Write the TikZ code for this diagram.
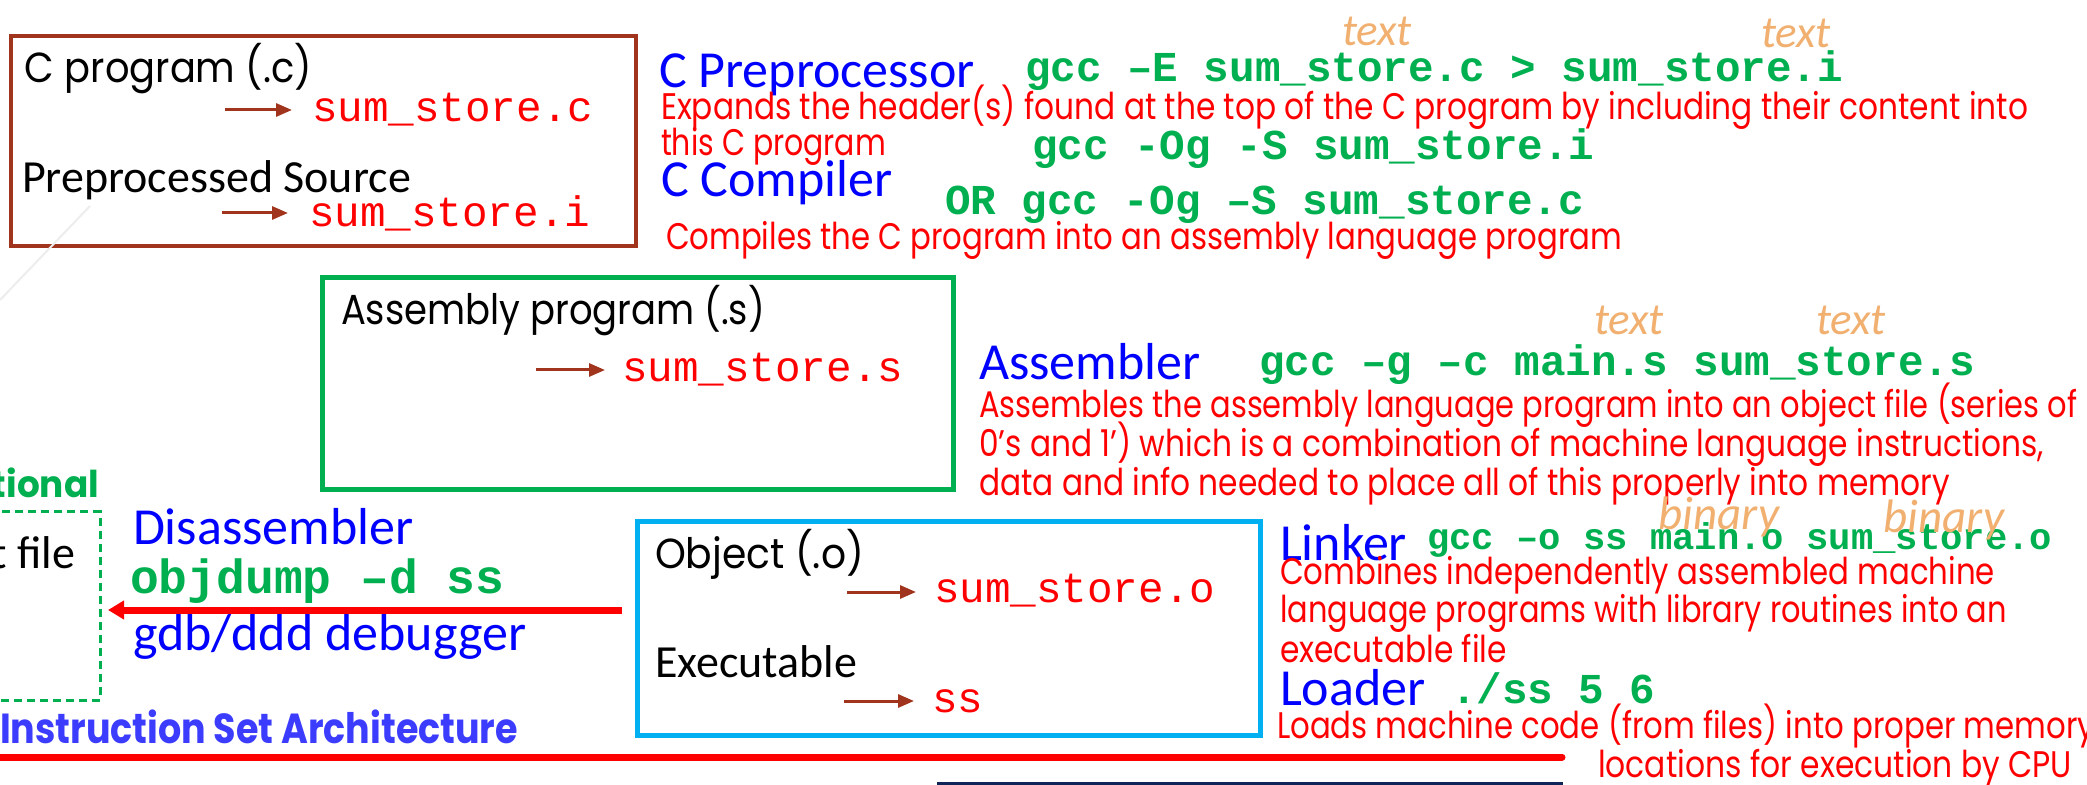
\documentclass[tikz,border=0pt]{standalone}
\usepackage{fontspec}
\usepackage{graphicx}
\setmainfont{Carlito}
\newfontfamily\popfont{Poppins}
\newfontfamily\monofont{Liberation Mono}
\newfontfamily\carfont{Carlito}
\usetikzlibrary{arrows.meta}
\definecolor{brn}{RGB}{160,52,28}
\definecolor{grn}{RGB}{0,176,80}
\definecolor{cyn}{RGB}{0,176,240}
\definecolor{blu}{RGB}{0,0,255}
\definecolor{rd}{RGB}{255,0,0}
\definecolor{org}{RGB}{241,176,112}
\definecolor{isab}{RGB}{60,60,255}
\definecolor{navy}{RGB}{15,37,87}
\newcommand\fitw[2]{\resizebox{#1pt}{\height}{#2}}
\begin{document}
\begin{tikzpicture}[x=0.5pt,y=-0.5pt,
  tx/.style={inner sep=0pt, outer sep=0pt, anchor=base west},
  desc/.style={tx, text=rd, font=\popfont\fontsize{18.5}{22}\selectfont},
  ttl/.style={tx, font=\popfont\fontsize{21}{25}\selectfont},
  lbl/.style={tx, text=blu, font=\carfont\fontsize{26}{30}\selectfont},
  calt/.style={tx, font=\carfont\fontsize{23}{27}\selectfont},
  fname/.style={tx, text=rd, font=\monofont\fontsize{21.3}{25}\selectfont},
  cmd/.style={tx, text=grn, font=\monofont\bfseries\fontsize{21.3}{25}\selectfont},
  note/.style={inner sep=0pt, anchor=base, text=org, font=\carfont\itshape\fontsize{22.5}{26}\selectfont},
  brarr/.style={draw=brn, line width=1.5pt, -{Triangle[length=8pt,width=6.5pt]}},
  boxs/.style={inner sep=0pt, outer sep=0pt, anchor=north west},
]
\useasboundingbox (0,0) rectangle (2087,785);
\clip (0,0) rectangle (2087,785);
\fill[white] (0,0) rectangle (2087,785);

% boxes
\node[boxs, draw=brn, line width=2pt, minimum width=312.5pt, minimum height=105pt] (cbox) at (11,36) {};
\node[boxs, draw=grn, line width=2.5pt, minimum width=315.5pt, minimum height=106pt] (sbox) at (322,278) {};
\node[boxs, draw=cyn, line width=2.5pt, minimum width=311.5pt, minimum height=106.5pt] (obox) at (637,522) {};
\node[inner sep=0pt, outer sep=0pt, anchor=north east, draw=grn, line width=1.5pt, dash pattern=on 4pt off 2.5pt, minimum width=160pt, minimum height=94pt] (dbox) at (100,512) {};

% faint line
\draw[black!7, line width=1pt] (90,206) -- (0,300);

% first box contents
\node[ttl] (cprog) at (25,83) {\fitw{143.5}{C program (.c)}};
\node[fname] (fc) at (312,122) {sum\_store.c};
\node[calt] (pre) at (22,193) {Preprocessed Source};
\node[fname] (fi) at (309,227) {sum\_store.i};
\coordinate (a1) at (225,110);
\coordinate (a2) at (222,213);
\draw[brarr, shorten >=10pt] (a1) -- (a1 -| fc.west);
\draw[brarr, shorten >=10.5pt] (a2) -- (a2 -| fi.west);

% second box
\node[ttl] (asmp) at (341,325) {\fitw{212}{Assembly program (.s)}};
\node[fname] (fs) at (622,382) {sum\_store.s};
\coordinate (a3) at (536,370);
\draw[brarr, shorten >=8.5pt] (a3) -- (a3 -| fs.west);

% third box
\node[ttl] (objt) at (655,568) {\fitw{104.5}{Object (.o)}};
\node[fname] (fo) at (934,603) {sum\_store.o};
\node[calt] (exe) at (655,677) {Executable};
\node[fname] (fss) at (932,712) {ss};
\coordinate (a4) at (847,592);
\coordinate (a5) at (844,701);
\draw[brarr, shorten >=9pt] (a4) -- (a4 -| fo.west);
\draw[brarr, shorten >=9pt] (a5) -- (a5 -| fss.west);

% preprocessor / compiler
\node[lbl] (lpre) at (659,88) {C Preprocessor};
\node[cmd] (c1) at (1025,82) {gcc –E sum\_store.c > sum\_store.i};
\node[desc] (d1) at (661,120) {\fitw{683.5}{Expands the header(s) found at the top of the C program by including their content into}};
\node[desc] (d2) at (661,156) {\fitw{112.5}{this C program}};
\node[cmd] (c2) at (1032,160) {gcc -Og -S sum\_store.i};
\node[lbl] (lcomp) at (661,197) {C Compiler};
\node[cmd] (c3) at (945,215) {OR gcc -Og –S sum\_store.c};
\node[desc] (d3) at (666,250) {\fitw{478}{Compiles the C program into an assembly language program}};
\node[note] (n1) at (1377,46) {text};
\node[note] (n2) at (1796,48) {text};

% assembler
\node[lbl] (lasm) at (979,380) {Assembler};
\node[cmd] (c4) at (1259,376) {gcc –g –c main.s sum\_store.s};
\node[desc] (d4) at (979,418) {\fitw{549}{Assembles the assembly language program into an object file (series of}};
\node[desc] (d5) at (979,457) {\fitw{532.5}{0’s and 1’) which is a combination of machine language instructions,}};
\node[desc] (d6) at (979,495) {\fitw{485.5}{data and info needed to place all of this properly into memory}};
\node[note] (n3) at (1629,335) {text};
\node[note] (n4) at (1851,335) {text};

% linker
\node[lbl] (llink) at (1280,560) {Linker};
\node[cmd, font=\monofont\bfseries\fontsize{18.6}{22}\selectfont] (c5) at (1427,550) {gcc –o ss main.o sum\_store.o};
\node[desc] (d7) at (1280,585) {\fitw{357.5}{Combines independently assembled machine}};
\node[desc] (d8) at (1280,623) {\fitw{363.5}{language programs with library routines into an}};
\node[desc] (d9) at (1280,662) {\fitw{113.5}{executable file}};
\node[note, font=\carfont\itshape\fontsize{23.5}{27}\selectfont] (n5) at (1719,530) {binary};
\node[note, font=\carfont\itshape\fontsize{23.5}{27}\selectfont] (n6) at (1944,532) {binary};

% loader
\node[lbl] (lload) at (1280,705) {Loader};
\node[cmd] (c6) at (1451,703) {./ss 5 6};
\node[desc] (d10) at (1277,738) {\fitw{409}{Loads machine code (from files) into proper memory}};
\node[desc] (d11) at (1598,777) {\fitw{237}{locations for execution by CPU}};

% left: optional / disassembler
\node[tx, anchor=base east, text=grn, font=\popfont\bfseries\fontsize{18.5}{22}\selectfont] (opt) at (99,498) {\fitw{53.5}{tional}};
\node[calt, anchor=base east] (tfile) at (75,568) {t file};
\node[lbl] (ldis) at (133,545) {Disassembler};
\node[cmd, font=\monofont\bfseries\fontsize{24}{28}\selectfont] (c7) at (130,593) {objdump –d ss};
\node[lbl] (lgdb) at (133,650) {gdb/ddd debugger};
\coordinate (ra) at (622,610);
\draw[draw=rd, line width=3.5pt, -{Triangle[length=8pt,width=9pt]}, shorten >=4pt] (ra) -- (ra -| dbox.east);

% ISA line
\node[tx, text=isab, font=\popfont\bfseries\fontsize{21}{25}\selectfont] (isa) at (0,743) {\fitw{259}{Instruction Set Architecture}};
\coordinate (isaL) at (-10,757);
\coordinate (isaR) at (1562,757);
\draw[rd, line width=3.5pt, line cap=round] (isaL) -- (isaR);
\fill[navy] (937,782) rectangle (1563,792);
\end{tikzpicture}
\end{document}
